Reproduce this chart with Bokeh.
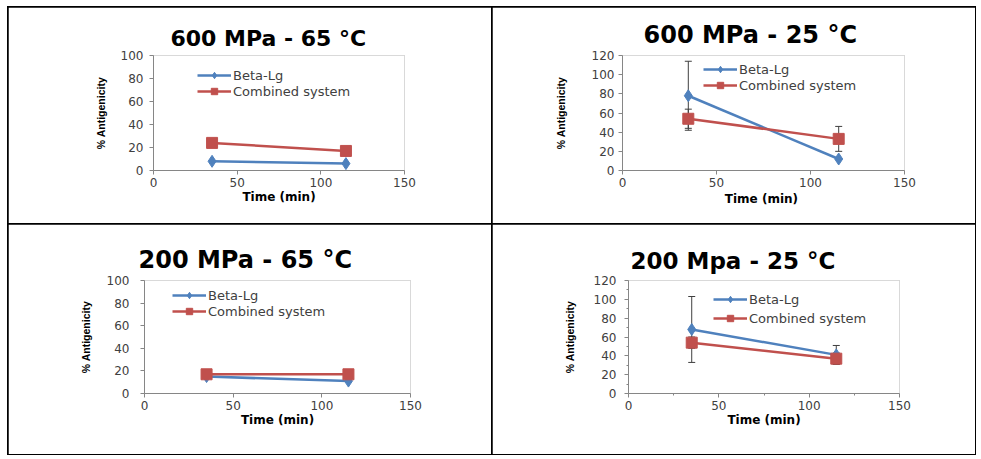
from bokeh.plotting import figure
from bokeh.models import (Range1d, Legend, LegendItem, Whisker, ColumnDataSource,
                          TeeHead, FixedTicker)
from bokeh.layouts import column, row
from bokeh.embed import file_html
from bokeh.resources import INLINE

# ---------------- data ----------------
time_min = [35, 115]
titles = ["600 MPa - 65 °C", "600 MPa - 25 °C", "200 MPa - 65 °C", "200 Mpa - 25 °C"]
x_labels = ["Time (min)", "Time  (min)", "Time (min)", "Time (min)"]
series_names = ["Beta-Lg", "Combined system"]
x_ticks = [0, 50, 100, 150]

beta_600_65 = [8, 6]
comb_600_65 = [24, 17]
beta_600_65_err = [0, 0]
comb_600_65_err = [0, 0]

beta_600_25 = [78, 12]
comb_600_25 = [54, 33]
beta_600_25_err = [36, 0]
comb_600_25_err = [10, 13]

beta_200_65 = [15, 11]
comb_200_65 = [17, 17]
beta_200_65_err = [0, 0]
comb_200_65_err = [0, 0]

beta_200_25 = [68, 41]
comb_200_25 = [54, 37]
beta_200_25_err = [35, 10]
comb_200_25_err = [6, 6]

y_max = [100, 120, 100, 120]

BLUE = "#4F81BD"
RED = "#C0504D"
AXIS = "#868686"
TXT = "#404040"

# layout settings per panel (positions/styles only)
cfg = [
    dict(w=483, h=216, bl=145, br=87, bt=48, bb=53, tfs="22px", toff=17, tso=10,
         ylso=6, ylab=11, xlab=0, leg=(44, 71), lsp=0, minor=False),
    dict(w=483, h=216, bl=130, br=71, bt=46, bb=49, tfs="24px", toff=21, tso=14,
         ylso=4, ylab=22, xlab=2, leg=(81, 77), lsp=0, minor=False),
    dict(w=483, h=230, bl=136, br=81, bt=55, bb=59, tfs="24px", toff=-6, tso=14,
         ylso=11, ylab=12, xlab=0, leg=(28, 74), lsp=-1, minor=False),
    dict(w=483, h=230, bl=136, br=76, bt=56, bb=61, tfs="23px", toff=2, tso=14,
         ylso=8, ylab=15, xlab=0, leg=(85, 67), lsp=3, minor=True),
]

data = [
    (beta_600_65, comb_600_65, beta_600_65_err, comb_600_65_err),
    (beta_600_25, comb_600_25, beta_600_25_err, comb_600_25_err),
    (beta_200_65, comb_200_65, beta_200_65_err, comb_200_65_err),
    (beta_200_25, comb_200_25, beta_200_25_err, comb_200_25_err),
]


def make_panel(i):
    c = cfg[i]
    beta, comb, beta_err, comb_err = data[i]
    p = figure(width=c["w"], height=c["h"], output_backend="svg", toolbar_location=None,
               x_range=Range1d(0, 150), y_range=Range1d(0, y_max[i]),
               min_border_left=c["bl"], min_border_right=c["br"],
               min_border_top=c["bt"], min_border_bottom=c["bb"],
               background_fill_color="white", border_fill_color="white")
    p.outline_line_color = "#D9D9D9"
    p.outline_line_width = 1
    p.xgrid.visible = False
    p.ygrid.visible = False

    p.title.text = titles[i]
    p.title.align = "left"
    p.title.offset = c["toff"]
    p.title.standoff = c["tso"]
    p.title.text_font = "DejaVu Sans"
    p.title.text_font_style = "bold"
    p.title.text_font_size = c["tfs"]
    p.title.text_color = "black"

    for ax in (p.xaxis[0], p.yaxis[0]):
        ax.axis_line_color = AXIS
        ax.major_tick_line_color = AXIS
        ax.minor_tick_line_color = AXIS
        ax.major_tick_in = 0
        ax.major_tick_out = 4
        ax.minor_tick_in = 0
        ax.minor_tick_out = 2 if c["minor"] else 0
        ax.major_label_text_font = "DejaVu Sans"
        ax.major_label_text_font_size = "12px"
        ax.major_label_text_color = TXT
        ax.axis_label_text_font_style = "bold"
        ax.axis_label_text_color = "black"

    p.xaxis[0].ticker = FixedTicker(ticks=x_ticks,
                                   minor_ticks=[25, 75, 125] if c["minor"] else [])
    p.yaxis[0].ticker = FixedTicker(ticks=list(range(0, y_max[i] + 1, 20)),
                                   minor_ticks=list(range(10, y_max[i], 20)) if c["minor"] else [])
    p.xaxis[0].major_label_standoff = 3
    p.yaxis[0].major_label_standoff = c["ylso"]

    p.xaxis[0].axis_label = x_labels[i]
    p.xaxis[0].axis_label_text_font = "DejaVu Sans"
    p.xaxis[0].axis_label_text_font_size = "12px"
    p.xaxis[0].axis_label_standoff = c["xlab"]
    p.yaxis[0].axis_label = "% Antigenicity"
    p.yaxis[0].axis_label_text_font = "Liberation Sans"
    p.yaxis[0].axis_label_text_font_size = "10.5px"
    p.yaxis[0].axis_label_standoff = c["ylab"]

    lb = p.line(time_min, beta, line_color=BLUE, line_width=2.5)
    sb = p.scatter(time_min, beta, marker="diamond", size=12, fill_color=BLUE,
                   line_color=BLUE)
    lc = p.line(time_min, comb, line_color=RED, line_width=2.5)
    sc = p.scatter(time_min, comb, marker="square", size=11, fill_color=RED,
                   line_color=RED)

    xs, up, lo = [], [], []
    for vals, errs in ((beta, beta_err), (comb, comb_err)):
        for t, v, e in zip(time_min, vals, errs):
            if e > 0:
                xs.append(t)
                up.append(v + e)
                lo.append(v - e)
    if xs:
        src = ColumnDataSource(dict(x=xs, upper=up, lower=lo))
        wh = Whisker(source=src, base="x", upper="upper", lower="lower",
                     line_color="#3F3F3F", line_width=1,
                     upper_head=TeeHead(size=7, line_color="#3F3F3F", line_width=1),
                     lower_head=TeeHead(size=7, line_color="#3F3F3F", line_width=1))
        p.add_layout(wh)

    legend = Legend(items=[LegendItem(label=series_names[0], renderers=[lb, sb]),
                           LegendItem(label=series_names[1], renderers=[lc, sc])],
                    location=c["leg"], padding=0, margin=0, spacing=c["lsp"],
                    glyph_width=34, glyph_height=16, label_height=16,
                    label_standoff=2, border_line_alpha=0, background_fill_alpha=0,
                    label_text_font="DejaVu Sans", label_text_font_size="13px",
                    label_text_color=TXT)
    p.add_layout(legend)
    return p


panels = [make_panel(i) for i in range(4)]

grid = column(row(panels[0], panels[1], spacing=1),
              row(panels[2], panels[3], spacing=1),
              spacing=1,
              styles={"background-color": "black", "padding": "1px",
                      "margin-left": "7px", "margin-top": "6px"})

open("out.html", "w").write(file_html(grid, INLINE))
